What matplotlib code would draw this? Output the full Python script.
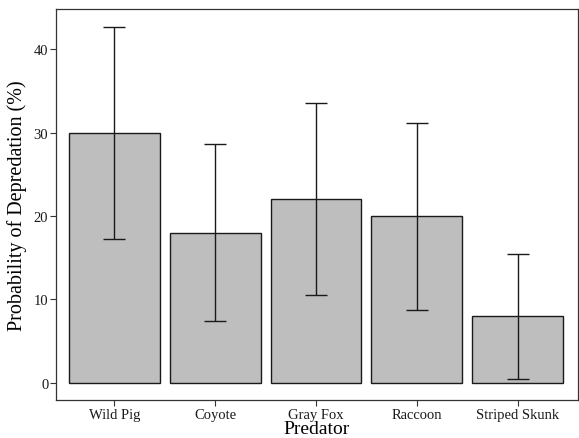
import matplotlib
matplotlib.use("Agg")
import matplotlib.pyplot as plt
import numpy as np

predators = ["Wild Pig", "Coyote", "Gray Fox", "Raccoon", "Striped Skunk"]
probability = [30.0, 18.0, 22.0, 20.0, 8.0]
lower = [17.3, 7.4, 10.5, 8.8, 0.5]
upper = [42.7, 28.6, 33.5, 31.1, 15.5]

plt.rcParams['font.family'] = ['Liberation Serif', 'DejaVu Serif']

fig = plt.figure(figsize=(5.79, 4.39), dpi=100)
ax = fig.add_axes([56/579, 1-401/439, (578-56)/579, (401-10)/439])

x = np.arange(len(predators))
ax.bar(x, probability, width=0.9, color="#BEBEBE", edgecolor="#1a1a1a", linewidth=1.0, zorder=2)
p = np.array(probability)
yerr = [p - np.array(lower), np.array(upper) - p]
ax.errorbar(x, p, yerr=yerr, fmt="none", ecolor="#1a1a1a", elinewidth=1.0,
            capsize=7.6, capthick=1.0, zorder=3)

ax.set_xlim(-0.58, 4.6)
ax.set_ylim(-2.04, 44.8)
ax.set_yticks([0, 10, 20, 30, 40])
ax.set_xticks(x)
ax.set_xticklabels(predators)
ax.tick_params(axis="both", labelsize=10.5, length=4, color="#333333", labelcolor="#1a1a1a", width=0.8, pad=1.5)
for s in ax.spines.values():
    s.set_color("#333333")
    s.set_linewidth(0.9)
ax.set_xlabel("Predator", fontsize=14, labelpad=-0.5)
ax.set_ylabel("Probability of Depredation (%)", fontsize=14.5, labelpad=5)

fig.savefig("out.png", dpi=100)
